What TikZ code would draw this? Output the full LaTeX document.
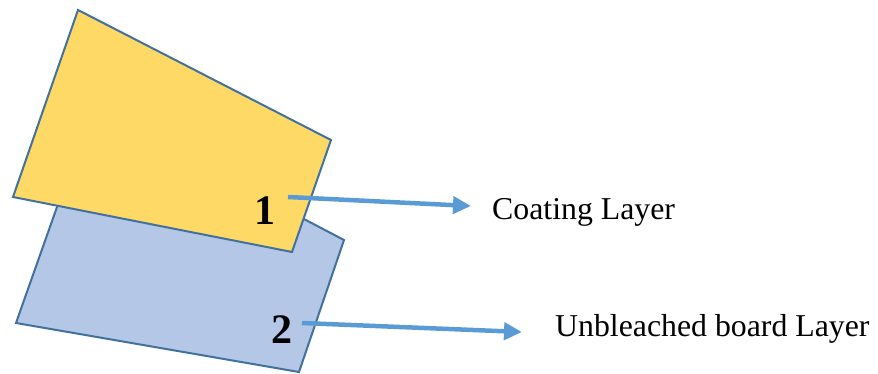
\documentclass[tikz,border=0pt]{standalone}
\usepackage{fontspec}
\setmainfont{Liberation Serif}
\usetikzlibrary{arrows.meta}
\definecolor{coatfill}{HTML}{FFD966}
\definecolor{boardfill}{HTML}{B4C7E7}
\definecolor{edgeblue}{HTML}{41719C}
\definecolor{arrowblue}{HTML}{5B9BD5}
\begin{document}
\begin{tikzpicture}[x=1pt,y=-1pt,
  sheet/.style={draw=edgeblue,line width=2pt,line join=miter},
  pointer/.style={draw=arrowblue,line width=4.5pt,-{Triangle[length=18pt,width=17pt]}},
  num/.style={inner sep=0pt,anchor=base,font=\fontsize{42}{48}\selectfont\bfseries},
  caption/.style={inner sep=0pt,anchor=base west,font=\fontsize{31.8}{36}\selectfont}]
\useasboundingbox (0,0) rectangle (878,374);
% lower sheet: unbleached board
\filldraw[sheet,fill=boardfill] (92,108) -- (344,240) -- (299,372) -- (16,323) -- cycle;
% upper sheet: coating
\filldraw[sheet,fill=coatfill] (78,10) -- (331,140) -- (292,252) -- (13,197) -- cycle;
% layer numbers
\node[num] (n1) at (265,225) {1};
\node[num] (n2) at (282,343) {2};
% captions
\node[caption] (coat) at (492,219) {Coating Layer};
\node[caption] (board) at (555,336) {Unbleached board Layer};
% pointers
\coordinate (p1s) at (288,197);
\coordinate (p1e) at (471,206);
\coordinate (p2s) at (302,323);
\coordinate (p2e) at (522,332);
\draw[pointer] (p1s) -- (p1e);
\draw[pointer] (p2s) -- (p2e);
\end{tikzpicture}
\end{document}
